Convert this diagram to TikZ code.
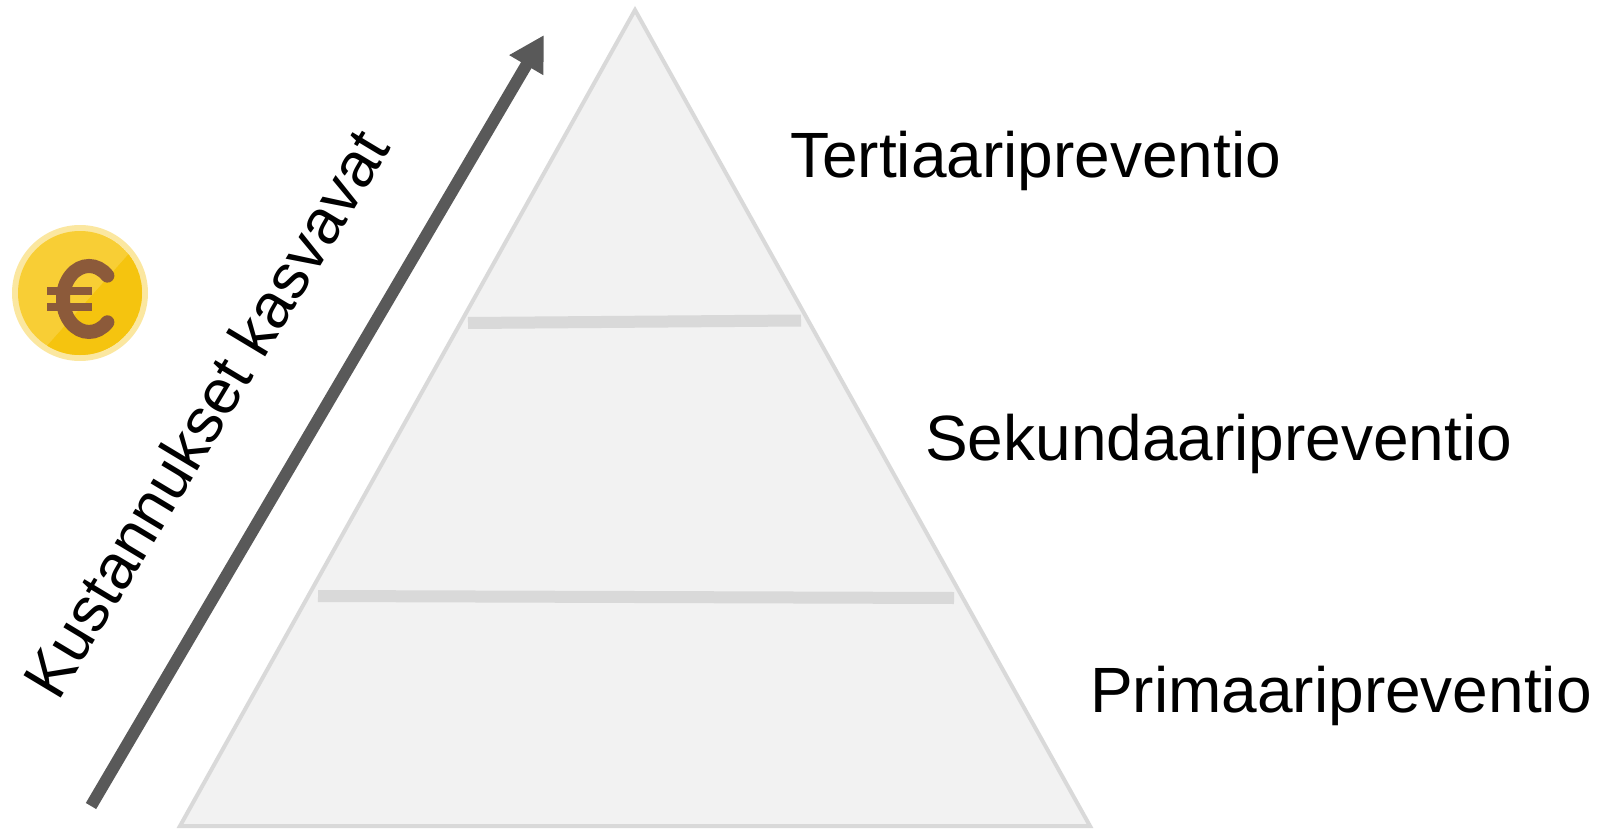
\documentclass[tikz,border=0pt]{standalone}
\usepackage{fontspec}
\setmainfont{Liberation Sans}
\usetikzlibrary{arrows.meta}
\definecolor{trifill}{HTML}{F2F2F2}
\definecolor{tridraw}{HTML}{D9D9D9}
\definecolor{arrowgray}{HTML}{595959}
\definecolor{coinglow}{HTML}{FBE7A0}
\definecolor{coinlight}{HTML}{F8CE35}
\definecolor{coindark}{HTML}{F5C40F}
\definecolor{eurobrown}{HTML}{8C5A3A}
\tikzset{
  level/.style={draw=tridraw, line width=12pt},
  label/.style={font=\fontsize{64}{76}\selectfont, inner sep=0pt, anchor=base west, text=black},
}
\begin{document}
\begin{tikzpicture}[x=1pt,y=-1pt]
\useasboundingbox (0,0) rectangle (1603,829);
% pyramid
\coordinate (apex) at (635,10);
\coordinate (bl) at (180,826);
\coordinate (br) at (1090,826);
\draw[fill=trifill, draw=tridraw, line width=4pt, line join=miter] (apex) -- (br) -- (bl) -- cycle;
\coordinate (u1) at (468,323);
\coordinate (u2) at (801,320.5);
\coordinate (l1) at (318,596);
\coordinate (l2) at (954,598);
\draw[level] (u1) -- (u2);
\draw[level] (l1) -- (l2);
% labels
\node[label] (ter) at (790,178) {Tertiaaripreventio};
\node[label] (sek) at (925,460) {Sekundaaripreventio};
\node[label] (pri) at (1090,712) {Primaaripreventio};
% arrow
\coordinate (astart) at (91,806);
\coordinate (aend) at (544,35);
\draw[arrowgray, line width=12pt, -{Triangle[length=35pt,width=37pt]}] (astart) -- (aend);
\node[label, font=\fontsize{63}{75}\selectfont, rotate=59] (cost) at (58,703) {Kustannukset kasvavat};
% coin
\coordinate (coin) at (80,293);
\fill[coinglow] (coin) circle (68);
\begin{scope}
\clip (coin) circle (62);
\fill[coinlight] (coin) circle (62);
\fill[coindark] (150,230) -- (30,365) -- (160,380) -- cycle;
\end{scope}
\coordinate (euro) at (89,299);
\draw[eurobrown, line width=14pt, line cap=round] ([shift={(18.4,23.3)}]euro) arc[start angle=45, end angle=315, x radius=26, y radius=33];
\draw[eurobrown, line width=8pt] (47,291) -- (92,291);
\draw[eurobrown, line width=8pt] (47,307) -- (92,307);
\end{tikzpicture}
\end{document}
